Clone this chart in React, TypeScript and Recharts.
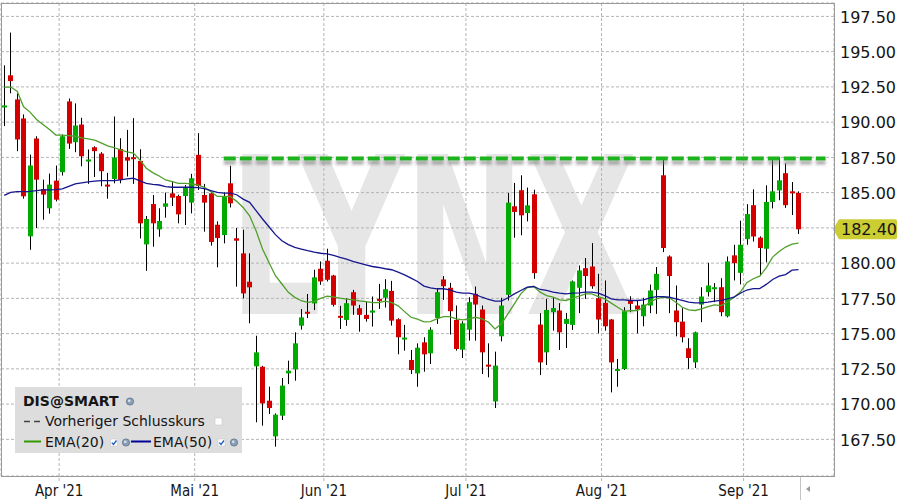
import React from 'react';
import { ComposedChart, Bar, Line, XAxis, YAxis, CartesianGrid, ReferenceLine } from 'recharts';

// ---- Data (DIS@SMART daily candles, 19 Mar 2021 .. 14 Sep 2021) ----
const opens = [191.07,193.32,191.61,190.26,181.90,188.84,185.26,183.89,185.85,186.45,
 191.47,188.58,189.83,187.23,188.22,187.77,185.57,185.97,188.10,187.51,
 187.51,187.25,181.33,184.19,182.39,184.00,184.95,184.76,184.76,184.29,
 187.68,184.83,184.95,182.72,181.99,185.66,181.76,180.69,178.68,172.68,
 172.65,170.24,167.71,169.18,172.18,172.46,175.56,176.55,177.14,179.60,
 180.17,179.12,176.26,175.97,177.94,176.80,176.33,176.49,177.46,177.54,
 178.03,176.02,174.60,173.13,172.18,174.38,173.60,176.11,178.84,178.25,
 175.97,173.86,175.28,177.82,176.71,172.80,170.19,174.81,177.75,184.03,
 185.17,183.55,184.88,175.64,173.67,176.52,176.64,175.69,175.62,178.25,
 179.64,179.76,177.51,177.18,176.00,172.37,172.49,177.39,176.99,176.23,
 176.99,178.10,186.23,180.47,176.64,175.85,173.96,172.96,177.06,177.94,
 178.18,178.29,176.23,180.55,179.31,181.70,184.11,181.81,181.02,184.34,
 185.16,186.38,185.09,184.98];
const highs = [194.03,196.35,192.04,190.55,187.70,189.00,185.92,186.35,186.92,189.12,
 191.68,191.33,190.31,188.06,188.29,187.87,186.40,190.40,188.86,189.45,
 190.28,188.08,183.34,184.83,183.89,185.00,185.78,184.85,185.54,186.33,
 189.22,185.62,185.05,182.96,185.02,186.91,182.49,182.37,180.69,174.85,
 172.72,171.24,169.34,171.85,173.08,175.09,176.74,177.81,179.53,180.12,
 181.02,179.17,176.97,177.51,178.10,177.04,177.27,177.63,178.53,178.86,
 178.74,176.09,175.62,173.84,174.31,174.74,175.45,178.18,179.08,178.60,
 176.99,175.88,177.58,178.34,176.99,174.31,173.72,177.54,184.98,185.69,
 186.23,185.36,185.21,176.45,177.46,177.54,177.16,176.47,178.77,179.83,
 180.36,181.42,179.24,178.77,176.04,173.20,176.87,177.65,177.35,177.54,
 178.48,179.72,187.42,180.55,178.41,176.80,174.67,175.14,178.29,180.02,
 178.58,178.93,180.47,181.30,183.01,184.18,185.23,181.90,185.52,187.51,
 187.51,187.08,185.75,185.09];
const lows = [189.72,192.04,187.94,184.57,180.95,182.49,183.08,183.51,184.38,186.21,
 188.10,187.87,186.87,185.62,186.11,185.45,184.57,185.66,185.66,186.14,
 185.62,181.75,179.45,181.16,181.87,183.22,184.05,182.82,182.70,183.53,
 185.19,182.23,181.24,179.70,181.40,183.95,178.33,177.50,175.73,168.71,
 168.47,169.30,166.98,168.87,171.42,171.66,175.28,176.10,176.67,178.46,
 178.70,176.92,175.33,175.55,176.33,175.14,175.85,175.50,176.75,176.85,
 175.57,173.53,173.79,172.13,171.23,172.30,172.84,175.69,177.39,174.93,
 173.79,173.27,174.50,174.50,172.13,171.90,169.72,174.45,177.35,181.80,
 181.97,182.96,178.89,172.06,172.77,175.21,173.84,173.98,175.26,176.45,
 177.46,178.18,175.02,175.21,170.83,171.23,172.42,176.52,175.02,175.52,
 176.45,176.40,180.78,176.45,174.81,174.38,172.49,172.56,175.81,177.63,
 177.23,176.23,176.15,178.77,178.49,181.30,181.53,179.08,180.06,183.88,
 184.46,183.92,183.41,182.07];
const closes = [191.18,192.91,188.77,184.74,186.92,185.92,184.86,185.57,184.50,189.00,
 188.48,189.76,187.58,187.35,187.94,186.52,185.45,187.49,185.90,187.27,
 187.39,182.82,183.13,182.82,182.99,184.24,184.64,183.46,185.36,186.02,
 185.47,184.29,181.50,181.78,184.73,184.24,181.59,177.85,178.28,173.67,
 170.05,169.72,169.25,171.31,172.37,174.31,176.15,176.44,178.99,178.70,
 178.82,177.04,176.14,177.16,176.99,176.33,176.04,176.64,177.35,178.15,
 175.92,174.74,174.72,172.42,174.00,173.53,175.28,177.94,178.36,176.59,
 173.91,175.73,177.23,177.06,173.67,172.68,172.73,176.99,184.29,183.63,
 183.39,184.10,179.29,172.96,176.68,176.82,175.09,176.04,178.70,179.48,
 179.08,178.36,176.00,175.52,172.96,172.49,176.59,177.11,176.71,177.06,
 178.06,179.24,181.07,179.08,175.81,174.74,173.27,175.09,177.63,178.41,
 178.29,176.52,180.12,180.00,181.30,183.48,181.89,181.07,184.34,185.09,
 185.87,184.11,184.98,182.40];
const ema20 = [192.49,192.49,192.20,191.09,190.71,190.19,189.83,189.48,189.08,189.08,
 189.05,189.00,188.89,188.82,188.72,188.53,188.31,188.20,188.03,187.89,
 187.80,187.32,186.73,186.42,186.18,185.90,185.78,185.66,185.66,185.62,
 185.54,185.38,185.07,184.73,184.73,184.73,184.38,183.95,183.36,182.30,
 181.00,180.05,179.11,178.52,177.93,177.57,177.33,177.22,177.29,177.50,
 177.65,177.60,177.51,177.44,177.39,177.32,177.27,177.20,177.20,177.30,
 177.20,176.97,176.56,176.16,176.02,175.83,175.85,176.04,176.21,176.21,
 176.04,175.97,176.04,176.16,176.04,175.81,175.33,175.69,176.40,177.11,
 177.82,178.27,178.34,177.94,177.70,177.58,177.39,177.35,177.51,177.65,
 177.82,177.82,177.63,177.46,177.16,176.87,176.59,176.62,176.64,176.87,
 177.23,177.46,177.58,177.54,177.23,176.87,176.68,176.64,176.75,176.92,
 177.04,176.99,177.23,177.58,177.95,178.61,178.89,179.07,179.66,180.43,
 180.83,181.14,181.35,181.42];
const ema50 = [184.81,185.02,185.07,185.07,185.09,185.14,185.19,185.19,185.21,185.26,
 185.45,185.62,185.69,185.76,185.81,185.85,185.85,185.85,185.90,185.97,
 186.02,185.83,185.66,185.59,185.54,185.43,185.38,185.38,185.38,185.38,
 185.36,185.28,185.15,185.02,184.97,184.97,184.85,184.54,184.31,183.72,
 183.13,182.58,182.02,181.59,181.31,181.12,181.00,180.88,180.78,180.70,
 180.66,180.55,180.40,180.28,180.12,180.00,179.88,179.76,179.69,179.60,
 179.53,179.36,179.17,178.93,178.70,178.37,178.25,178.18,178.18,178.10,
 177.94,177.87,177.87,177.77,177.58,177.42,177.30,177.30,177.54,177.82,
 178.06,178.29,178.34,178.13,178.06,177.94,177.87,177.82,177.87,177.89,
 177.94,177.94,177.87,177.70,177.46,177.39,177.39,177.35,177.35,177.39,
 177.54,177.63,177.63,177.58,177.46,177.35,177.23,177.18,177.18,177.23,
 177.30,177.35,177.46,177.58,177.86,178.09,178.19,178.19,178.49,178.84,
 179.07,179.19,179.50,179.54];

// index of the first trading day of each month, and the month labels
const monthStarts = [9, 30, 50, 72, 93, 115];
const monthLabels = ["Apr '21", "Mai '21", "Jun '21", "Jul '21", "Aug '21", "Sep '21"];
const priceTicks = [167.5, 170, 172.5, 175, 177.5, 180, 182.5, 185, 187.5, 190, 192.5, 195, 197.5];
const priceDomain = [164.9, 198.45];
const resistanceLevel = 187.42;
const resistanceFrom = 34;
const resistanceTo = 127.2;
const symbolName = 'DIS@SMART';
const prevCloseLabel = 'Vorheriger Schlusskurs';
const ema20Label = 'EMA(20)';
const ema50Label = 'EMA(50)';
const watermark = 'LYNX';

const FONT = "'DejaVu Sans', Verdana, sans-serif";
const UP = '#00aa00';
const DOWN = '#d40000';
const RIGHT_PAD_SLOTS = 5.5;

const data = closes.map((c, i) => ({
  i,
  o: opens[i],
  h: highs[i],
  l: lows[i],
  c,
  hl: [lows[i], highs[i]],
  ema20: ema20[i],
  ema50: ema50[i],
}));
const lastClose = closes[closes.length - 1];
const monthTicks = monthStarts.map((s) => s - 0.5);
const xDomain = [-0.5, closes.length - 1 + RIGHT_PAD_SLOTS];

const Candle = (props: any) => {
  const { x, y, width, height, payload } = props;
  if (!payload || x == null || y == null) return <g />;
  const { o, h, l, c } = payload;
  const top = Math.min(y, y + height);
  const bottom = Math.max(y, y + height);
  const span = h - l;
  const k = span > 0 ? (bottom - top) / span : 0;
  const yO = top + (h - o) * k;
  const yC = top + (h - c) * k;
  const bodyTop = Math.min(yO, yC);
  const bodyH = Math.max(2, Math.abs(yO - yC));
  const bx = Math.round(x);
  const w = Math.round(width);
  const cx = bx + Math.floor(w / 2) + 0.5;
  return (
    <g>
      <line x1={cx} x2={cx} y1={top} y2={bottom} stroke="#000" strokeWidth={1} />
      <rect x={bx} y={bodyTop} width={w} height={bodyH} fill={c >= o ? UP : DOWN} />
    </g>
  );
};

const YTick = (props: any) => {
  const { x, y, payload } = props;
  if (Math.abs(payload.value - lastClose) < 1) return <g />;
  return (
    <text x={x} y={y} dy={6.2} textAnchor="start" fontSize={16} fontFamily={FONT} fill="#151515">
      {Number(payload.value).toFixed(2)}
    </text>
  );
};

const XTick = (props: any) => {
  const { x, y, payload } = props;
  const idx = monthTicks.indexOf(payload.value);
  return (
    <text
      transform={`translate(${x},${y + 13}) scale(0.9,1)`}
      textAnchor="middle"
      fontSize={15}
      fontFamily={FONT}
      fill="#151515"
    >
      {idx >= 0 ? monthLabels[idx] : ''}
    </text>
  );
};

const PriceTag = (props: any) => {
  const vb = props.viewBox || {};
  const xr = (vb.x ?? 0) + (vb.width ?? 0);
  const yc = vb.y ?? 0;
  const d = `M${xr - 1},${yc} L${xr + 5},${yc - 10} L${xr + 61},${yc - 10} Q${xr + 63},${yc - 10} ${xr + 63},${yc - 8} L${xr + 63},${yc + 8} Q${xr + 63},${yc + 10} ${xr + 61},${yc + 10} L${xr + 5},${yc + 10} Z`;
  return (
    <g>
      <path d={d} fill="#cccc33" />
      <text x={xr + 7} y={yc + 6} fontSize={16} fontFamily={FONT} fill="#151515">
        {lastClose.toFixed(2)}
      </text>
    </g>
  );
};

const Gear = ({ cx, cy }: { cx: number; cy: number }) => (
  <g>
    <circle cx={cx} cy={cy} r={3.6} fill="#8aa0b8" stroke="#5a6e86" strokeWidth={0.8} />
    <circle cx={cx - 0.8} cy={cy - 0.8} r={1.3} fill="#d8e2ee" />
  </g>
);

const Check = ({ x, y }: { x: number; y: number }) => (
  <g>
    <rect x={x} y={y} width={7} height={7} fill="#fff" stroke="#c8c8c8" strokeWidth={0.6} />
    <path d={`M${x + 1.3},${y + 3.6} L${x + 3},${y + 5.5} L${x + 6},${y + 1.5}`} stroke="#1f5fc4" strokeWidth={1.4} fill="none" />
  </g>
);

export default function App() {
  return (
    <div style={{ position: 'absolute', left: 0, top: 0, width: 900, height: 500, background: '#fff', overflow: 'hidden' }}>
      <svg width={900} height={500} style={{ position: 'absolute', left: 0, top: 0 }}>
        <defs>
          <filter id="dashShadow" filterUnits="userSpaceOnUse" x="0" y="0" width="900" height="500">
            <feDropShadow dx="0" dy="4" stdDeviation="1.8" floodColor="#7a7a7a" floodOpacity="0.65" />
          </filter>
        </defs>
        <text
          transform="translate(229,314) scale(0.66,1)"
          fontSize={220}
          fontWeight="bold"
          fontFamily={FONT}
          fill="#e6e6e6"
        >
          {watermark}
        </text>
      </svg>
      <div style={{ position: 'absolute', left: 0, top: 0 }}>
        <ComposedChart width={900} height={500} data={data} margin={{ top: 3, right: 0, bottom: 0, left: 1 }}>
          <CartesianGrid stroke="#b4b4b4" strokeDasharray="3 2" />
          <XAxis
            dataKey="i"
            type="number"
            domain={xDomain}
            ticks={monthTicks}
            allowDataOverflow
            axisLine={false}
            tickLine={{ stroke: '#b4b4b4', strokeDasharray: '3 2' }}
            tickSize={5}
            tickMargin={2}
            height={24}
            tick={<XTick />}
            interval={0}
          />
          <YAxis
            orientation="right"
            type="number"
            domain={priceDomain}
            ticks={priceTicks}
            allowDataOverflow
            axisLine={false}
            tickLine={false}
            tickSize={4}
            tickMargin={2}
            width={66}
            tick={<YTick />}
            interval={0}
          />
          <Bar dataKey="hl" barSize={5} shape={<Candle />} isAnimationActive={false} />
          <Line type="linear" dataKey="ema20" stroke="#4f9f2c" strokeWidth={1.3} dot={false} activeDot={false} isAnimationActive={false} />
          <Line type="linear" dataKey="ema50" stroke="#16168f" strokeWidth={1.3} dot={false} activeDot={false} isAnimationActive={false} />
          <ReferenceLine
            segment={[{ x: resistanceFrom, y: resistanceLevel }, { x: resistanceTo, y: resistanceLevel }]}
            stroke="#1db31d"
            strokeWidth={4}
            strokeDasharray="12 4"
            filter="url(#dashShadow)"
            ifOverflow="visible"
          />
          <ReferenceLine y={lastClose} stroke="none" ifOverflow="visible" label={PriceTag} />
        </ComposedChart>
      </div>
      <svg width={900} height={500} style={{ position: 'absolute', left: 0, top: 0, pointerEvents: 'none' }}>
        <rect x={1.5} y={3.5} width={833} height={473} fill="none" stroke="#9a9a9a" strokeWidth={1} />
        <line x1={800.5} x2={800.5} y1={477} y2={500} stroke="#c4c4c4" strokeWidth={1} />
        <path d="M806,489 L810,486 L810,492 Z" fill="#9a9a9a" />
        <rect x={15} y={387} width={227} height={66} fill="#dddddd" />
        <text x={23} y={406} fontSize={14} fontWeight="bold" fontFamily={FONT} fill="#151515">{symbolName}</text>
        <Gear cx={130} cy={401.5} />
        <line x1={24} x2={41} y1={421.5} y2={421.5} stroke="#444" strokeWidth={1.6} strokeDasharray="6 4" />
        <text x={45} y={426} fontSize={14} fontFamily={FONT} fill="#151515">{prevCloseLabel}</text>
        <rect x={215} y={418} width={7} height={7} fill="#fff" stroke="#c8c8c8" strokeWidth={0.6} />
        <line x1={24} x2={41} y1={441.5} y2={441.5} stroke="#339900" strokeWidth={2} />
        <text x={45} y={447} fontSize={14} fontFamily={FONT} fill="#151515">{ema20Label}</text>
        <Check x={110.5} y={439} />
        <Gear cx={126} cy={442.5} />
        <line x1={131} x2={151} y1={441.5} y2={441.5} stroke="#000099" strokeWidth={2} />
        <text x={153} y={447} fontSize={14} fontFamily={FONT} fill="#151515">{ema50Label}</text>
        <Check x={218} y={439} />
        <Gear cx={234} cy={442.5} />
      </svg>
    </div>
  );
}
